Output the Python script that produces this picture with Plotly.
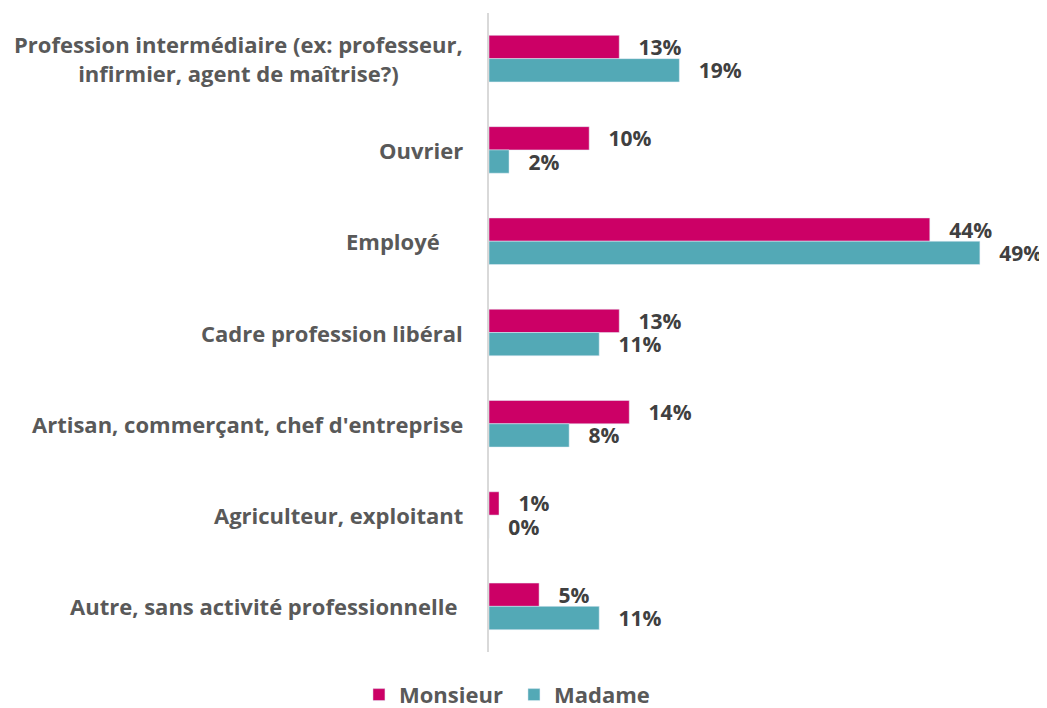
import plotly.graph_objs as go

categories = [
    "Profession intermédiaire (ex: professeur,<br>infirmier, agent de maîtrise?)",
    "Ouvrier",
    "Employé\u00a0\u00a0\u00a0\u00a0",
    "Cadre profession libéral",
    "Artisan, commerçant, chef d'entreprise",
    "Agriculteur, exploitant",
    "Autre, sans activité professionnelle\u00a0",
]
monsieur = [13, 10, 44, 13, 14, 1, 5]
madame = [19, 2, 49, 11, 8, 0, 11]

label_font = dict(family="Open Sans", size=22, color="#595959", weight="bold")
value_font = dict(family="Open Sans", size=21, color="#404040", weight="bold")

fig = go.Figure()
fig.add_trace(
    go.Bar(
        y=categories, x=monsieur, name="Monsieur", orientation="h",
        marker=dict(color="#CC0066"),
        text=[f"\u00a0\u00a0\u00a0{v}%" for v in monsieur],
        textposition="outside", textfont=value_font, cliponaxis=False,
        constraintext="none",
    )
)
fig.add_trace(
    go.Bar(
        y=categories, x=madame, name="Madame", orientation="h",
        marker=dict(color="#53A9B6"),
        text=[f"\u00a0\u00a0\u00a0{v}%" for v in madame],
        textposition="outside", textfont=value_font, cliponaxis=False,
        constraintext="none",
    )
)

# category labels as annotations so multi-line text stays centred
for i, c in enumerate(categories):
    fig.add_annotation(
        x=0, y=i, xref="x", yref="y", text=c, showarrow=False,
        xanchor="right", align="center", xshift=-24, font=label_font,
    )

fig.update_layout(
    width=1047, height=708,
    margin=dict(l=481, r=15, t=5, b=64, autoexpand=False),
    barmode="group", bargap=0.49, bargroupgap=0,
    plot_bgcolor="white", paper_bgcolor="white",
    font=dict(family="Open Sans"),
    xaxis=dict(range=[0, 55], visible=False),
    yaxis=dict(
        autorange="reversed", showticklabels=False, showgrid=False,
        showline=True, linecolor="#D9D9D9", linewidth=2, ticks="",
    ),
    legend=dict(
        orientation="h", x=-0.236, xanchor="left",
        y=-0.067, yanchor="middle",
        entrywidth=110, entrywidthmode="pixels",
        font=dict(family="Open Sans", size=22, color="#595959", weight="bold"),
    ),
    showlegend=True,
)

fig.write_html("out.html")
